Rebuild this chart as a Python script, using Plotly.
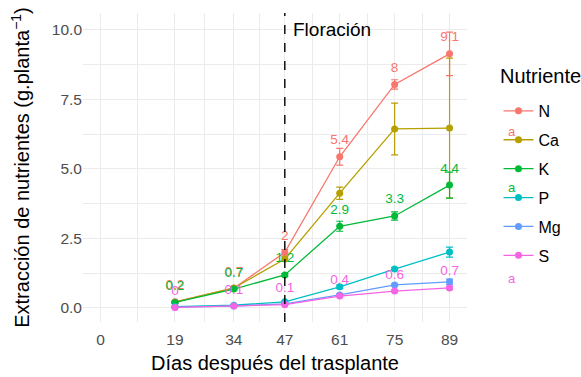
import plotly.graph_objects as go

# Días después del trasplante
dias = [19, 34, 47, 61, 75, 89]
x_ticks = [0, 19, 34, 47, 61, 75, 89]
y_ticks = [0, 2.5, 5, 7.5, 10]
y_tick_text = ["0.0", "2.5", "5.0", "7.5", "10.0"]

nutrientes = ["N", "Ca", "K", "P", "Mg", "S"]
colores = ["#F8766D", "#B79F00", "#00BA38", "#00BFC4", "#619CFF", "#F564E3"]

# Extracción media (g/planta) y error estándar por nutriente
media_N = [0.22, 0.71, 2.00, 5.44, 8.04, 9.14]
media_Ca = [0.21, 0.72, 1.76, 4.13, 6.44, 6.47]
media_K = [0.20, 0.68, 1.19, 2.94, 3.31, 4.42]
media_P = [0.05, 0.10, 0.22, 0.76, 1.40, 2.01]
media_Mg = [0.03, 0.07, 0.15, 0.47, 0.83, 0.94]
media_S = [0.02, 0.07, 0.12, 0.43, 0.61, 0.72]

ee_N = [0.03, 0.05, 0.10, 0.30, 0.17, 0.78]
ee_Ca = [0.02, 0.04, 0.08, 0.22, 0.93, 2.52]
ee_K = [0.02, 0.04, 0.05, 0.18, 0.15, 0.47]
ee_P = [0.01, 0.01, 0.02, 0.06, 0.05, 0.18]
ee_Mg = [0.01, 0.01, 0.02, 0.04, 0.04, 0.10]
ee_S = [0.005, 0.01, 0.02, 0.03, 0.04, 0.05]

medias = [media_N, media_Ca, media_K, media_P, media_Mg, media_S]
errores = [ee_N, ee_Ca, ee_K, ee_P, ee_Mg, ee_S]
con_etiqueta = ["N", "K", "S"]

dia_floracion = 47

fig = go.Figure()

for nombre, color, media, ee in zip(nutrientes, colores, medias, errores):
    fig.add_trace(go.Scatter(
        x=dias, y=media, name=nombre, legendgroup=nombre,
        mode="lines+markers",
        line=dict(color=color, width=1.3),
        marker=dict(color=color, size=7),
        error_y=dict(type="data", array=ee, visible=True, color=color,
                     thickness=1.2, width=3.5),
        hoverinfo="skip",
    ))

def fmt(v):
    return f"{round(v, 1):g}"

for nombre, color, media in zip(nutrientes, colores, medias):
    if nombre not in con_etiqueta:
        continue
    fig.add_trace(go.Scatter(
        x=dias, y=media, mode="markers+text", showlegend=False,
        text=[fmt(v) for v in media], textposition="top center",
        textfont=dict(family="Liberation Sans, Arial", size=13.5, color=color),
        marker=dict(size=13, opacity=0),
        hoverinfo="skip",
    ))

fig.add_shape(type="line", xref="x", yref="paper",
              x0=dia_floracion, x1=dia_floracion, y0=0, y1=1,
              line=dict(color="black", width=1.4, dash="dash"), layer="above")

fig.add_annotation(x=dia_floracion + 1.7, y=10, xref="x", yref="y",
                   text="Floración", showarrow=False,
                   xanchor="left", yanchor="middle",
                   font=dict(family="Liberation Sans, Arial", size=19, color="black"))

# título de la leyenda
fig.add_annotation(x=1.081, y=0.797, xref="paper", yref="paper", text="Nutriente",
                   showarrow=False, xanchor="left", yanchor="middle",
                   font=dict(family="Liberation Sans, Arial", size=20, color="black"))

# claves de texto de la leyenda
for yy, color in [(0.618, colores[0]), (0.434, colores[2]), (0.142, colores[5])]:
    fig.add_annotation(x=1.117, y=yy, xref="paper", yref="paper", text="a",
                       showarrow=False, xanchor="center", yanchor="middle",
                       font=dict(family="Liberation Sans, Arial", size=13, color=color))

grid = "#EBEBEB"
fig.update_layout(
    width=581, height=377,
    margin=dict(l=83, r=114, t=13, b=55, autoexpand=False),
    paper_bgcolor="white", plot_bgcolor="white",
    font=dict(family="Liberation Sans, Arial", color="black"),
    showlegend=True,
    legend=dict(
        font=dict(size=16, color="black"),
        x=1.082, y=0.738, xanchor="left", yanchor="top",
        tracegroupgap=5.1, itemwidth=30,
    ),
    xaxis=dict(
        range=[-4.45, 93.45], tickvals=x_ticks,
        ticktext=[str(v) for v in x_ticks],
        tickfont=dict(size=15.5, color="#4D4D4D"),
        ticklabelstandoff=6, automargin=False,
        showgrid=True, gridcolor=grid, gridwidth=1.4,
        minor=dict(tickvals=[(a + b) / 2 for a, b in zip(x_ticks[:-1], x_ticks[1:])],
                   showgrid=True, gridcolor=grid, gridwidth=0.8),
        zeroline=False, showline=False, ticks="",
        title=dict(text="Días después del trasplante", font=dict(size=20), standoff=9),
    ),
    yaxis=dict(
        range=[-0.504, 10.61], tickvals=y_ticks, ticktext=y_tick_text,
        tickfont=dict(size=15.5, color="#4D4D4D"),
        automargin=False,
        showgrid=True, gridcolor=grid, gridwidth=1.4,
        minor=dict(tickvals=[1.25, 3.75, 6.25, 8.75],
                   showgrid=True, gridcolor=grid, gridwidth=0.8),
        zeroline=False, showline=False, ticks="",
        title=dict(text="Extracción de nutrientes (g.planta<sup>−1</sup>)",
                   font=dict(size=20), standoff=16),
    ),
)

fig.write_html("out.html")
